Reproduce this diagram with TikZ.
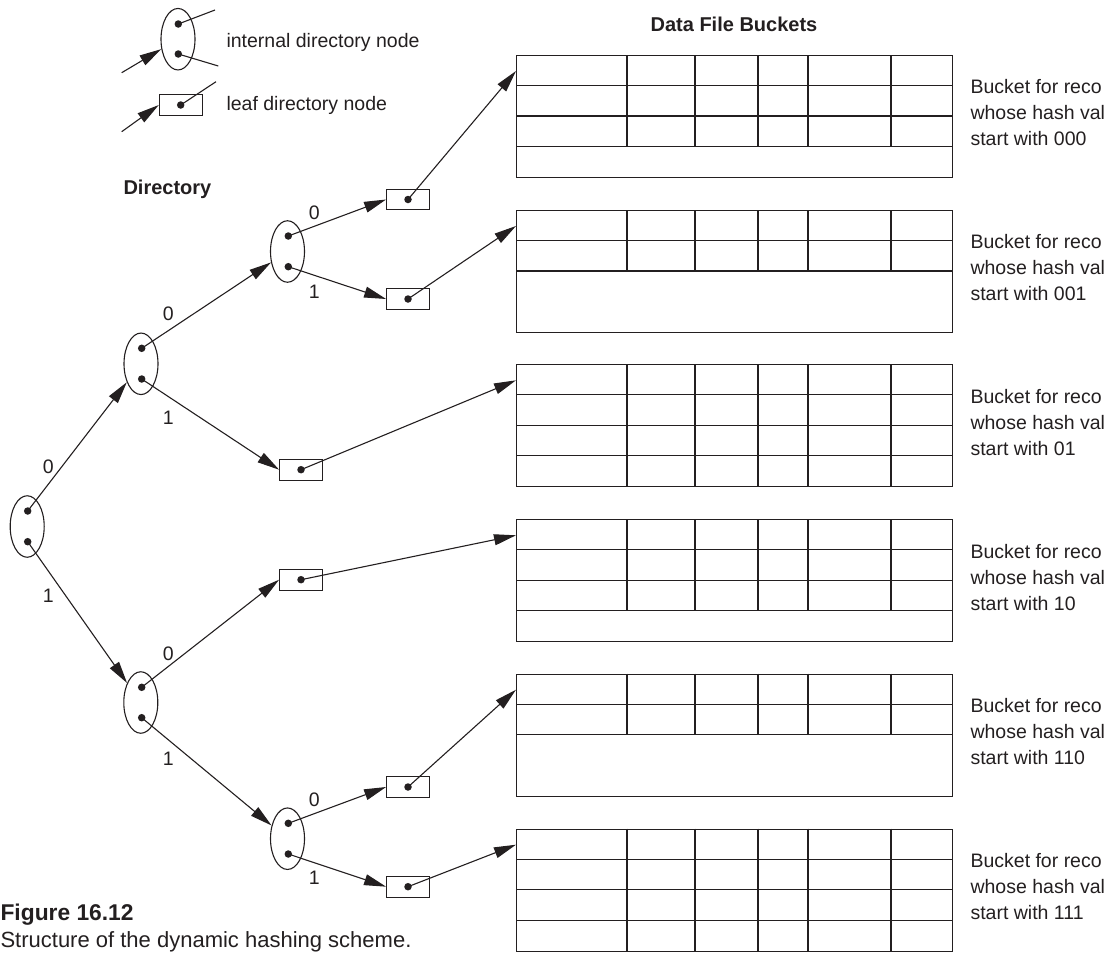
\documentclass[tikz,border=0pt]{standalone}
\usepackage{fontspec}
\setmainfont{Liberation Sans}
\usetikzlibrary{arrows.meta,shapes.geometric}
\definecolor{ink}{HTML}{231F20}
\newcommand\figtxt{\fontsize{19.5bp}{26bp}\selectfont}
\newcommand\fighd{\fontsize{20bp}{24bp}\selectfont\bfseries}
\newcommand\bucketgrid[4]{%
  \node[bucket] (#1) at (516,#2) {};
  \foreach \r in {1,...,#3} {\draw (516,{#2+30.5*\r}) -- (952,{#2+30.5*\r});}
  \foreach \c in {627,695,758,808,891} {\draw (\c,#2) -- (\c,{#2+30.5*#4});}
}
\begin{document}
\begin{tikzpicture}[x=1bp,y=-1bp,line width=1.1bp,color=ink,
 inode/.style={draw,ellipse,minimum width=34bp,minimum height=61.5bp,inner sep=0pt},
 lnode/.style={draw,rectangle,minimum width=42.7bp,minimum height=20.7bp,inner sep=0pt},
 dotn/.style={circle,fill,inner sep=0pt,minimum size=7.5bp},
 arr/.style={-{Triangle[length=22bp,width=11bp]}},
 bucket/.style={draw,rectangle,minimum width=436bp,minimum height=122bp,inner sep=0pt,anchor=north west},
 txt/.style={font=\figtxt,inner sep=0pt,anchor=base west},
 num/.style={font=\figtxt,inner sep=0pt},
 hd/.style={font=\fighd,inner sep=0pt,anchor=base west}]
\useasboundingbox (0,0) rectangle (1107,953);

% ---------- legend ----------
\node[inode] (LI) at (178,39.2) {};
\node[dotn] (LIt) at (178.3,24) {};
\node[dotn] (LIb) at (178.3,54) {};
\coordinate (LIo1) at (215,10);
\coordinate (LIo2) at (218.3,66);
\coordinate (LIin) at (121.7,72.7);
\draw (LIt.center) -- (LIo1);
\draw (LIb.center) -- (LIo2);
\draw[arr] (LIin) -- (LI);
\node[lnode] (LL) at (180.7,105) {};
\node[dotn] (LLd) at (LL.center) {};
\coordinate (LLo) at (216,81.7);
\coordinate (LLin) at (121.7,131.7);
\draw (LLd.center) -- (LLo);
\draw[arr] (LLin) -- (LL.west);
\node[txt] (tLI) at (226,47) {internal directory node};
\node[txt] (tLL) at (226,110.7) {leaf directory node};
\node[hd] (tDir) at (123,194) {Directory};
\node[hd,anchor=base] (tDFB) at (734,31) {Data File Buckets};

% ---------- directory tree ----------
\node[inode] (R) at (27.2,526.5) {};
\node[dotn] (R0) at (27.7,511) {};
\node[dotn] (R1) at (27.7,541.7) {};
\node[inode] (A) at (141,363.8) {};
\node[dotn] (A0) at (141.7,348.3) {};
\node[dotn] (A1) at (141.7,379) {};
\node[inode] (C) at (140.8,702.5) {};
\node[dotn] (C0) at (141.7,687.3) {};
\node[dotn] (C1) at (141.7,717.7) {};
\node[inode] (B) at (287.5,251.5) {};
\node[dotn] (B0) at (288.3,236) {};
\node[dotn] (B1) at (288.3,266.7) {};
\node[inode] (D) at (287.5,838.7) {};
\node[dotn] (D0) at (288.3,823.3) {};
\node[dotn] (D1) at (288.3,854) {};

\foreach \n/\x/\y in {L000/408/199.5, L001/408/299, L01/301/469.7, L10/301/579.7, L110/408/787, L111/408/886.7} {
  \node[lnode] (\n) at (\x,\y) {};
  \node[dotn] (\n d) at (\x,\y) {};
}

\draw[arr] (R0.center) -- (A);
\draw[arr] (R1.center) -- (C);
\draw[arr] (A0.center) -- (B);
\draw[arr] (A1.center) -- (L01.west);
\draw[arr] (C0.center) -- (L10.west);
\draw[arr] (C1.center) -- (D);
\draw[arr] (B0.center) -- (L000.west);
\draw[arr] (B1.center) -- (L001.west);
\draw[arr] (D0.center) -- (L110.west);
\draw[arr] (D1.center) -- (L111.west);

\node[num] (e1) at (48.3,466.7) {0};
\node[num] (e2) at (48.3,596) {1};
\node[num] (e3) at (168.3,313.3) {0};
\node[num] (e4) at (168.3,417.7) {1};
\node[num] (e5) at (168.3,653.3) {0};
\node[num] (e6) at (168.3,758.3) {1};
\node[num] (e7) at (314.3,212.3) {0};
\node[num] (e8) at (314.3,291.7) {1};
\node[num] (e9) at (314.3,800) {0};
\node[num] (e10) at (314.3,877.3) {1};

% ---------- buckets ----------
\bucketgrid{bk1}{55}{3}{3}
\bucketgrid{bk2}{210}{2}{2}
\bucketgrid{bk3}{364.3}{3}{4}
\bucketgrid{bk4}{519.3}{3}{3}
\bucketgrid{bk5}{673.7}{2}{2}
\bucketgrid{bk6}{828.7}{3}{4}

\foreach \t/\v [count=\i] in {55/000,210/001,364.3/01,519.3/10,673.7/110,828.7/111} {
  \coordinate (in\i) at (516,{\t+16});
  \node[txt] (bl\i a) at (970,{\t+38.7}) {Bucket for reco};
  \node[txt] (bl\i b) at (970,{\t+64.7}) {whose hash val};
  \node[txt] (bl\i c) at (970,{\t+90.7}) {start with \v};
}
\draw[arr] (L000d.center) -- (in1);
\draw[arr] (L001d.center) -- (in2);
\draw[arr] (L01d.center) -- (in3);
\draw[arr] (L10d.center) -- (in4);
\draw[arr] (L110d.center) -- (in5);
\draw[arr] (L111d.center) -- (in6);

% ---------- caption ----------
\node[font=\fontsize{22.8bp}{27bp}\selectfont\bfseries,inner sep=0pt,anchor=base west] (cap1) at (0,920) {Figure 16.12};
\node[font=\fontsize{22bp}{27bp}\selectfont,inner sep=0pt,anchor=base west] (cap2) at (0,947.5) {Structure of the dynamic hashing scheme.};
\end{tikzpicture}
\end{document}
